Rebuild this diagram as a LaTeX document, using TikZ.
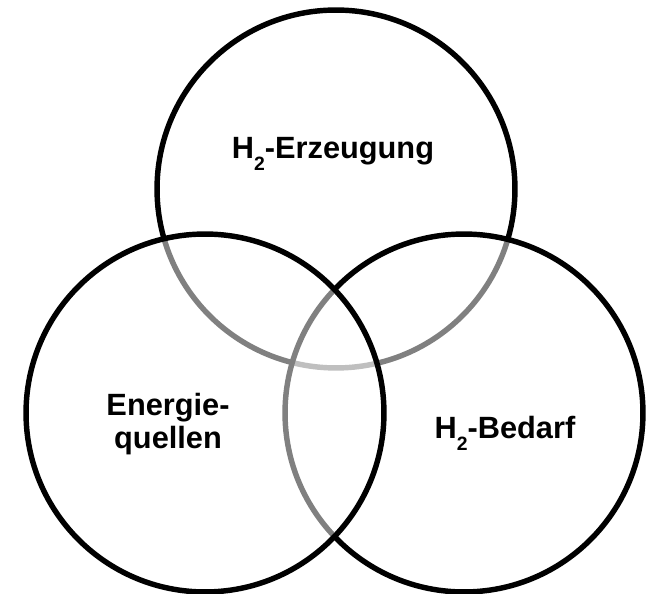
\documentclass[tikz,border=0pt]{standalone}
\usepackage{fontspec}
\setmainfont{Liberation Sans}
\usepackage{tikz}

\newcommand{\hsub}[1]{\raisebox{-0.38em}{\fontsize{11pt}{11pt}\selectfont #1}}

\begin{document}
\begin{tikzpicture}[x=0.02cm,y=-0.02cm,font=\fontsize{17.5pt}{18.5pt}\selectfont\bfseries]
    \tikzstyle{field}=[draw, circle, line width=3.1pt, inner sep=0pt,
        minimum size=7.16cm, fill=white, fill opacity=0.5]
    \tikzstyle{caption}=[align=center, text opacity=1]

    \useasboundingbox (0,0) rectangle (650,594);

    % Circles (order gives the grey arcs)
    \node[field] (erzeugung) at (336,189) {};
    \node[field] (bedarf) at (464,413) {};
    \node[field] (quellen) at (205,413) {};

    % Labels
    \node[caption, anchor=base] (erzeugungtext) at (333,159) {H\hsub{2}-Erzeugung};
    \node[caption] (quellentext) at (168,424) {Energie-\\quellen};
    \node[caption, anchor=base] (bedarftext) at (505,439) {H\hsub{2}-Bedarf};
\end{tikzpicture}
\end{document}
